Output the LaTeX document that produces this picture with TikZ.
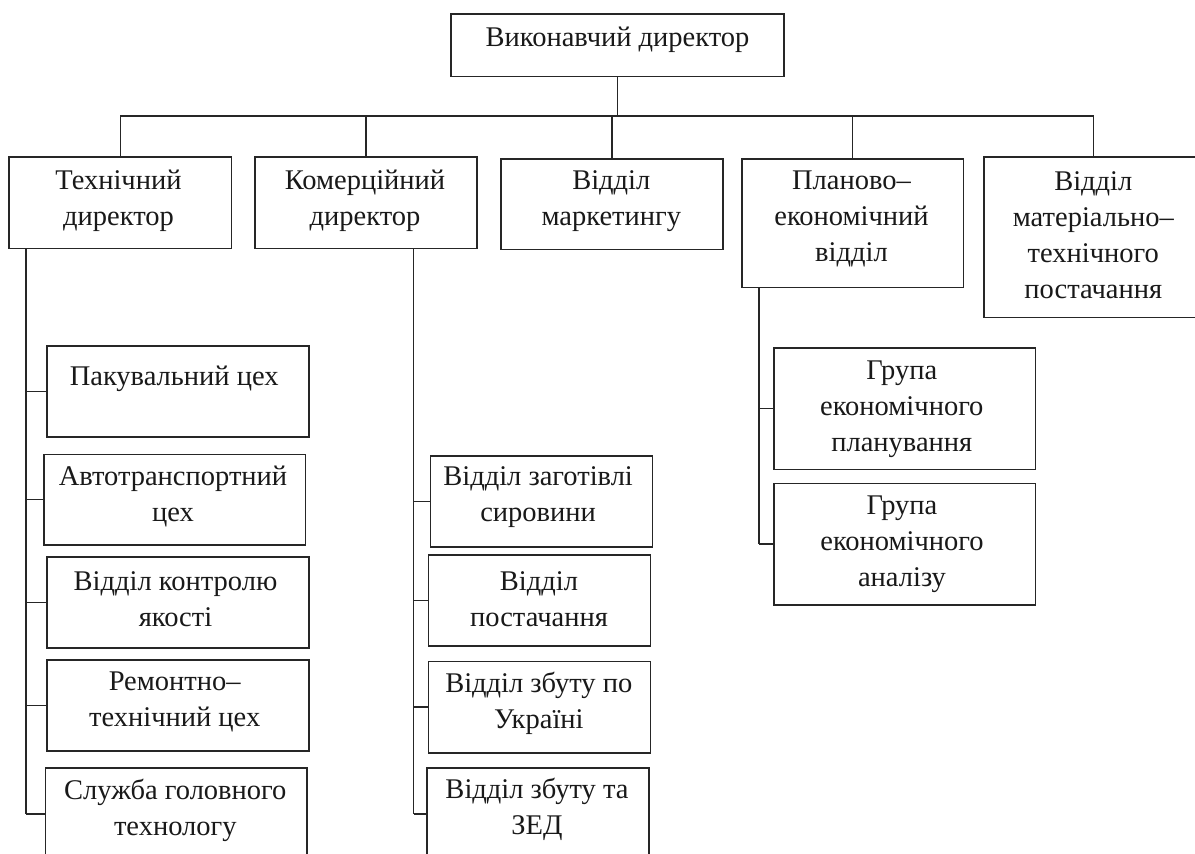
\documentclass[tikz,border=0pt]{standalone}
\usepackage{fontspec}
\setmainfont{Liberation Serif}
\begin{document}
\begin{tikzpicture}[x=1pt,y=-1pt,
  box/.style={draw=black!85,line width=1.6pt,rectangle,inner sep=0pt},
  lbl/.style={align=center,inner sep=0pt,font=\fontsize{28.5}{36}\selectfont,text=black!90},
  conn/.style={draw=black!85,line width=1.6pt}]
\useasboundingbox (0,0) rectangle (1195,854);
\clip (0,0) rectangle (1195,854);
\fill[white] (0,0) rectangle (1195,854);
% boxes
\node[box,minimum width=333pt,minimum height=62.3pt] (top) at (617.5,45.2) {};
\node[box,minimum width=222.3pt,minimum height=91.3pt] (tech) at (120.4,202.7) {};
\node[box,minimum width=222.3pt,minimum height=91.3pt] (kom) at (366.1,202.7) {};
\node[box,minimum width=221.7pt,minimum height=90.3pt] (mkt) at (611.9,204.2) {};
\node[box,minimum width=221.6pt,minimum height=128.3pt] (plan) at (852.5,223.2) {};
\node[box,minimum width=219.3pt,minimum height=160.6pt] (mtp) at (1093.4,237) {};
\node[box,minimum width=261.7pt,minimum height=91.3pt] (p1) at (177.9,391.4) {};
\node[box,minimum width=261.6pt,minimum height=90.4pt] (p2) at (174.5,499.5) {};
\node[box,minimum width=261.7pt,minimum height=90.7pt] (p3) at (177.9,602.4) {};
\node[box,minimum width=261.7pt,minimum height=90.7pt] (p4) at (177.9,705.4) {};
\node[box,minimum width=261.4pt,minimum height=92pt] (p5) at (176,814) {};
\node[box,minimum width=222.1pt,minimum height=90.7pt] (k1) at (541.4,501.4) {};
\node[box,minimum width=222pt,minimum height=91pt] (k2) at (539.6,600.5) {};
\node[box,minimum width=222pt,minimum height=91.4pt] (k3) at (539.6,707) {};
\node[box,minimum width=222pt,minimum height=92pt] (k4) at (537.9,814) {};
\node[box,minimum width=261.5pt,minimum height=121.6pt] (g1) at (904.6,408.5) {};
\node[box,minimum width=261.5pt,minimum height=121.7pt] (g2) at (904.6,544.2) {};
% texts
\node[lbl] (t-top) at (617.5,40) {Виконавчий директор};
\node[lbl] (t-tech) at (118.5,200.5) {Технічний\\директор};
\node[lbl] (t-kom) at (365,200.5) {Комерційний\\директор};
\node[lbl] (t-mkt) at (611.3,201) {Відділ\\маркетингу};
\node[lbl] (t-plan) at (851.5,219) {Планово–\\економічний\\відділ};
\node[lbl] (t-mtp) at (1093.3,235.5) {Відділ\\матеріально–\\технічного\\постачання};
\node[lbl] (t-p1) at (174.2,379) {Пакувальний цех};
\node[lbl] (t-p2) at (173,496.8) {Автотранспортний\\цех};
\node[lbl] (t-p3) at (175.5,598.8) {Відділ контролю\\якості};
\node[lbl] (t-p4) at (174.7,701.7) {Ремонтно–\\технічний цех};
\node[lbl] (t-p5) at (175.3,810.2) {Служба головного\\технологу};
\node[lbl] (t-k1) at (538.1,497.5) {Відділ заготівлі\\сировини};
\node[lbl] (t-k2) at (539,598.8) {Відділ\\постачання};
\node[lbl] (t-k3) at (538.8,703.8) {Відділ збуту по\\Україні};
\node[lbl] (t-k4) at (537,809.7) {Відділ збуту та\\ЗЕД};
\node[lbl] (t-g1) at (901.8,409) {Група\\економічного\\планування};
\node[lbl] (t-g2) at (902,544.3) {Група\\економічного\\аналізу};
% connectors
\coordinate (bus) at (0,115.7);
\coordinate (tspine) at (26,0);
\coordinate (kspine) at (413.5,0);
\coordinate (pspine) at (759,0);
\draw[conn] (top.south) -- (top.south |- bus);
\draw[conn] (tech.north) -- (tech.north |- bus) -- (mtp.north |- bus) -- (mtp.north);
\draw[conn] (kom.north) -- (kom.north |- bus);
\draw[conn] (mkt.north) -- (mkt.north |- bus);
\draw[conn] (plan.north) -- (plan.north |- bus);
% technical director
\draw[conn] (tech.south -| tspine) -- (tspine |- p5.west);
\foreach \b in {p1,p2,p3,p4,p5} \draw[conn] (tspine |- \b.west) -- (\b.west);
% commercial director
\draw[conn] (kom.south -| kspine) -- (kspine |- k4.west);
\foreach \b in {k1,k2,k3,k4} \draw[conn] (kspine |- \b.west) -- (\b.west);
% planning
\draw[conn] (plan.south -| pspine) -- (pspine |- g2.west);
\foreach \b in {g1,g2} \draw[conn] (pspine |- \b.west) -- (\b.west);
\end{tikzpicture}
\end{document}
